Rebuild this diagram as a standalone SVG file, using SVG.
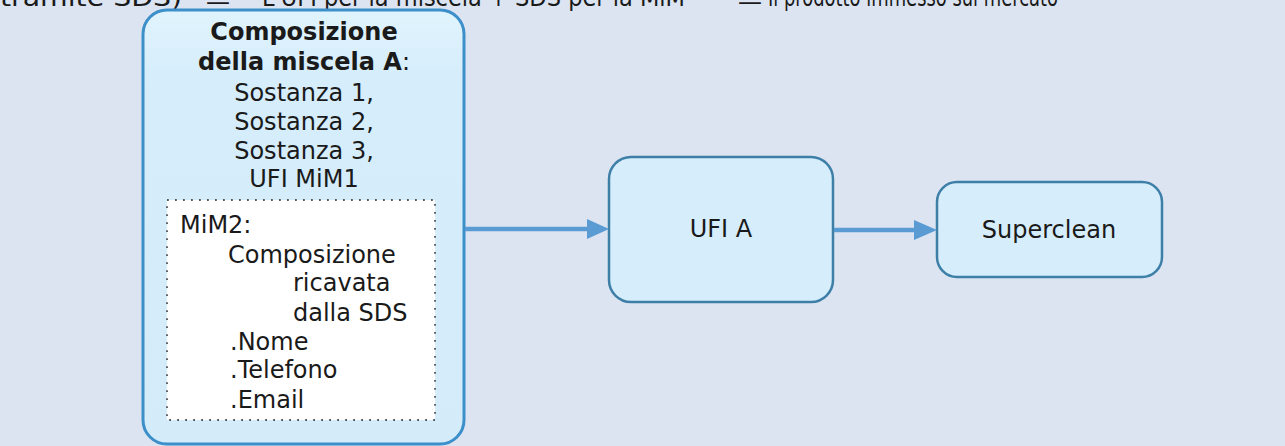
<svg xmlns="http://www.w3.org/2000/svg" width="1285" height="446" viewBox="0 0 1285 446">
  <style>
    .t { font-family: "DejaVu Sans", Verdana, sans-serif; font-size: 24px; fill: #1a1a1a; }
    .b { font-weight: bold; }
    .mid { text-anchor: middle; }
    .box { fill: #d6edfb; stroke: #3e7fa8; stroke-width: 2.5; }
    .conn { stroke: #5b9bd3; stroke-width: 4.5; fill: none; }
    .head { fill: #5b9bd3; }
  </style>
  <defs>
    <linearGradient id="mainFill" x1="0" y1="0" x2="0" y2="1">
      <stop offset="0" stop-color="#e0f4fd"/>
      <stop offset="0.15" stop-color="#d6edfb"/>
      <stop offset="1" stop-color="#d4ebfa"/>
    </linearGradient>
  </defs>

  <rect width="1285" height="446" fill="#dce4f2"/>

  <!-- column headings, cut off by the top edge -->
  <g id="headings" class="t">
    <text x="0" y="6" textLength="182" lengthAdjust="spacingAndGlyphs">tramite SDS)</text>
    <text x="206" y="10">—</text>
    <text x="262" y="6" textLength="423" lengthAdjust="spacingAndGlyphs">L'UFI per la miscela + SDS per la MiM</text>
    <text x="738" y="10">—</text>
    <text x="768" y="6" textLength="290" lengthAdjust="spacingAndGlyphs">Il prodotto immesso sul mercato</text>
  </g>

  <!-- mixture A composition -->
  <g id="miscela-a">
    <rect x="143" y="10" width="321" height="434" rx="24" fill="url(#mainFill)" stroke="#3d8fca" stroke-width="3"/>
    <text class="t b mid" x="304" y="40">Composizione</text>
    <text class="t mid" x="304" y="70"><tspan class="b">della miscela A</tspan>:</text>
    <text class="t mid" x="304" y="101">Sostanza 1,</text>
    <text class="t mid" x="304" y="130">Sostanza 2,</text>
    <text class="t mid" x="304" y="159">Sostanza 3,</text>
    <text class="t mid" x="304" y="187">UFI MiM1</text>
  </g>

  <!-- MiM2 details -->
  <g id="mim2">
    <rect x="167" y="200" width="268" height="220" fill="#ffffff" stroke="#555" stroke-width="1.8" stroke-dasharray="1.8 6.2"/>
    <text class="t" x="180" y="233">MiM2:</text>
    <text class="t" x="228" y="263">Composizione</text>
    <text class="t" x="293" y="291">ricavata</text>
    <text class="t" x="293" y="321">dalla SDS</text>
    <text class="t" x="230" y="350">.Nome</text>
    <text class="t" x="230" y="378">.Telefono</text>
    <text class="t" x="230" y="408">.Email</text>
  </g>

  <g id="ufi-a">
    <rect class="box" x="609" y="157" width="224" height="145" rx="22"/>
    <text class="t mid" x="721" y="237">UFI A</text>
  </g>

  <g id="superclean">
    <rect class="box" x="937" y="182" width="225" height="95" rx="20"/>
    <text class="t mid" x="1049" y="238">Superclean</text>
  </g>

  <g id="connectors">
    <line class="conn" x1="465" y1="229" x2="590" y2="229"/>
    <polygon class="head" points="609,229 587,219 587,239"/>
    <line class="conn" x1="834" y1="230" x2="916" y2="230"/>
    <polygon class="head" points="937,230 914,220 914,240"/>
  </g>
</svg>
